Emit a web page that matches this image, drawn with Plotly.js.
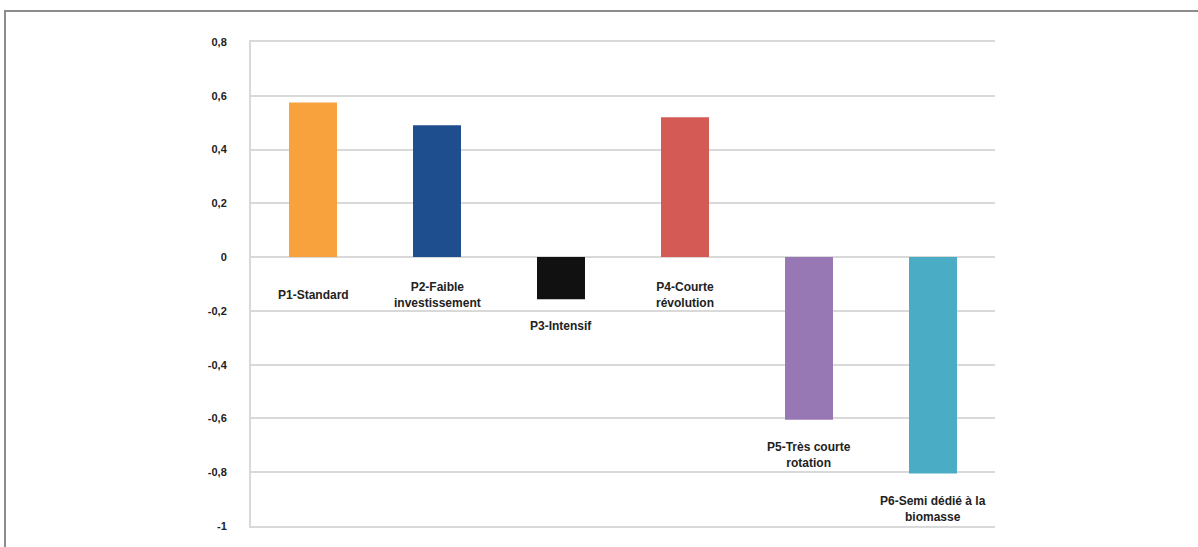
<!DOCTYPE html>
<html>
<head>
<meta charset="utf-8">
<script src="https://cdn.plot.ly/plotly-3.0.1.min.js"></script>
<style>
html,body{margin:0;padding:0;background:#fff;}
#frame{position:absolute;left:4px;top:10px;width:1194px;height:537px;border-top:2px solid #8c8c8c;border-left:2px solid #8c8c8c;box-sizing:border-box;pointer-events:none;z-index:5;}
#chart{width:1198px;height:547px;}
</style>
</head>
<body>
<div id="frame"></div>
<div id="chart"></div>
<script>
const categories = ["P1-Standard", "P2-Faible<br>investissement", "P3-Intensif", "P4-Courte<br>révolution", "P5-Très courte<br>rotation", "P6-Semi dédié à la<br>biomasse"];
const values = [0.575, 0.49, -0.157, 0.52, -0.605, -0.805];
const barColors = ["#F8A23E", "#1F4E8F", "#111111", "#D45B55", "#9878B4", "#4BACC6"];
const tickValues = [0.8, 0.6, 0.4, 0.2, 0, -0.2, -0.4, -0.6, -0.8, -1];
const tickLabels = ["0,8", "0,6", "0,4", "0,2", "0", "-0,2", "-0,4", "-0,6", "-0,8", "-1"];

const trace = {
  type: "bar",
  x: categories,
  y: values,
  marker: {color: barColors, line: {width: 0}},
  hoverinfo: "none"
};

const labelFont = {family: "Liberation Sans, Arial, sans-serif", size: 12, color: "#222", weight: "bold"};

const annotations = categories.map((c, i) => {
  const v = values[i];
  const pos = v >= 0;
  return {
    x: c, xref: "x",
    y: pos ? 0 : v, yref: "y",
    text: c,
    showarrow: false,
    xanchor: "center",
    yanchor: pos ? "middle" : "top",
    yshift: pos ? -38 : -18,
    font: labelFont,
    align: "center"
  };
});

const layout = {
  width: 1198, height: 547,
  margin: {l: 251, r: 203, t: 42, b: 21, pad: 0},
  paper_bgcolor: "#fff",
  plot_bgcolor: "#fff",
  showlegend: false,
  bargap: 0.613,
  xaxis: {
    showticklabels: false,
    showgrid: false,
    zeroline: false,
    showline: true,
    mirror: true,
    linecolor: "#d9d9d9",
    linewidth: 2,
    ticks: ""
  },
  yaxis: {
    range: [-1, 0.8],
    tickvals: tickValues,
    ticktext: tickLabels,
    showgrid: true,
    gridcolor: "#d9d9d9",
    gridwidth: 2,
    zeroline: true,
    zerolinecolor: "#d9d9d9",
    zerolinewidth: 2,
    showline: true,
    linecolor: "#d9d9d9",
    linewidth: 2,
    ticks: "",
    ticklabelstandoff: 20,
    tickfont: {family: "Liberation Sans, Arial, sans-serif", size: 11, color: "#222", weight: "bold"}
  },
  annotations: annotations
};

Plotly.newPlot("chart", [trace], layout, {staticPlot: true, displayModeBar: false});
</script>
</body>
</html>
